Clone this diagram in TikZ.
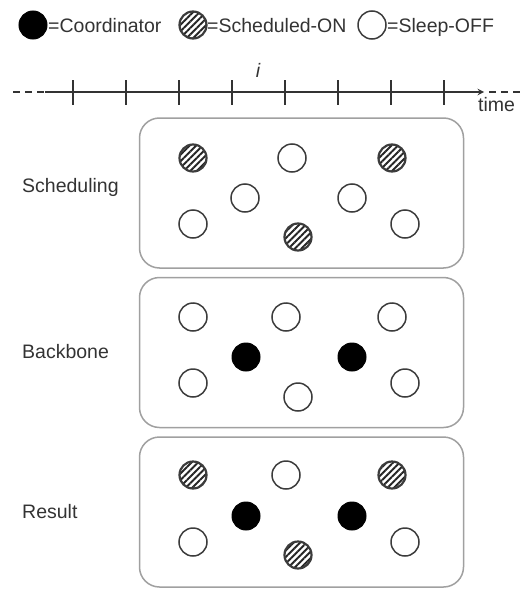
\documentclass[tikz,border=0pt]{standalone}
\usepackage{fontspec}
\setmainfont{Liberation Sans}
\usepackage{xcolor}
\definecolor{inkgray}{HTML}{333333}
\definecolor{rimgray}{HTML}{3C3C3C}
\definecolor{panelgray}{HTML}{A0A0A0}
\usetikzlibrary{arrows,positioning,patterns.meta}

\begin{document}
\begin{tikzpicture}[
        x=1pt, y=-1pt,
        every node/.style={font=\fontsize{19.5}{22}\selectfont, text=inkgray},
        panel/.style={rectangle, rounded corners=20pt, draw=panelgray, line width=1.5pt, minimum width=324pt, minimum height=150pt},
        coord/.style={circle, fill=black, draw=black, line width=1pt, minimum size=28pt, inner sep=0pt},
        sched/.style={circle, draw=rimgray, line width=2.2pt, minimum size=27pt, inner sep=0pt, pattern={Lines[angle=45,distance=4.6pt,line width=1.9pt]}, pattern color=black!85},
        sleep/.style={circle, draw=rimgray, line width=1.5pt, minimum size=28pt, inner sep=0pt, fill=white},
        tick/.style={line width=1.8pt, draw=inkgray},
        axis/.style={line width=1.8pt, draw=inkgray},
        arrow/.style={->, axis, >=stealth}
    ]
        \useasboundingbox (0,0) rectangle (520,589);

        % legend
        \node[coord] (lg-coord) at (33,25) {};
        \node[anchor=base west, inner sep=0pt] (lg-coord-txt) at (48,32) {=Coordinator};
        \node[sched] (lg-sched) at (193,25) {};
        \node[anchor=base west, inner sep=0pt] (lg-sched-txt) at (207,32) {=Scheduled-ON};
        \node[sleep] (lg-sleep) at (372,25) {};
        \node[anchor=base west, inner sep=0pt] (lg-sleep-txt) at (387,32) {=Sleep-OFF};

        % time line
        \coordinate (t-left)  at (13,92);
        \coordinate (t-from)  at (45,92);
        \coordinate (t-to)    at (484,92);
        \coordinate (t-right) at (520,92);
        \draw[axis, dash pattern=on 7pt off 5pt] (t-left) -- (t-from);
        \draw[arrow] (t-from) -- (t-to);
        \draw[axis, dash pattern=on 7pt off 5pt] (t-to) ++(5,0) -- (t-right);
        \foreach \x in {73,126,179,232,285,338,391,444}
            \draw[tick] (\x,80) -- (\x,105);
        \node[anchor=base, inner sep=0pt] (t-i) at (258,77) {\itshape i};
        \node[anchor=base west, inner sep=0pt] (t-label) at (478,111) {time};

        % panels
        \node[panel] (sched-box) at (301.5,193) {};
        \node[panel] (bb-box)    at (301.5,352.5) {};
        \node[panel] (res-box)   at (301.5,512) {};

        \node[anchor=west, inner sep=0pt] (sched-lbl) at (22,187) {Scheduling};
        \node[anchor=west, inner sep=0pt] (bb-lbl)    at (22,352) {Backbone};
        \node[anchor=west, inner sep=0pt] (res-lbl)   at (22,512) {Result};

        % scheduling
        \node[sched] (s1) at (193,158) {};
        \node[sleep] (s2) at (292,158) {};
        \node[sched] (s3) at (392,158) {};
        \node[sleep] (s4) at (245,198) {};
        \node[sleep] (s5) at (352,198) {};
        \node[sleep] (s6) at (193,224) {};
        \node[sched] (s7) at (298,237) {};
        \node[sleep] (s8) at (405,224) {};

        % backbone
        \node[sleep] (b1) at (193,317) {};
        \node[sleep] (b2) at (286,317) {};
        \node[sleep] (b3) at (392,317) {};
        \node[coord] (b4) at (246,357) {};
        \node[coord] (b5) at (352,357) {};
        \node[sleep] (b6) at (193,383) {};
        \node[sleep] (b7) at (298,397) {};
        \node[sleep] (b8) at (405,383) {};

        % result
        \node[sched] (r1) at (193,475) {};
        \node[sleep] (r2) at (286,475) {};
        \node[sched] (r3) at (392,475) {};
        \node[coord] (r4) at (246,516) {};
        \node[coord] (r5) at (352,516) {};
        \node[sleep] (r6) at (193,542) {};
        \node[sched] (r7) at (298,555) {};
        \node[sleep] (r8) at (405,542) {};
    \end{tikzpicture}
\end{document}
